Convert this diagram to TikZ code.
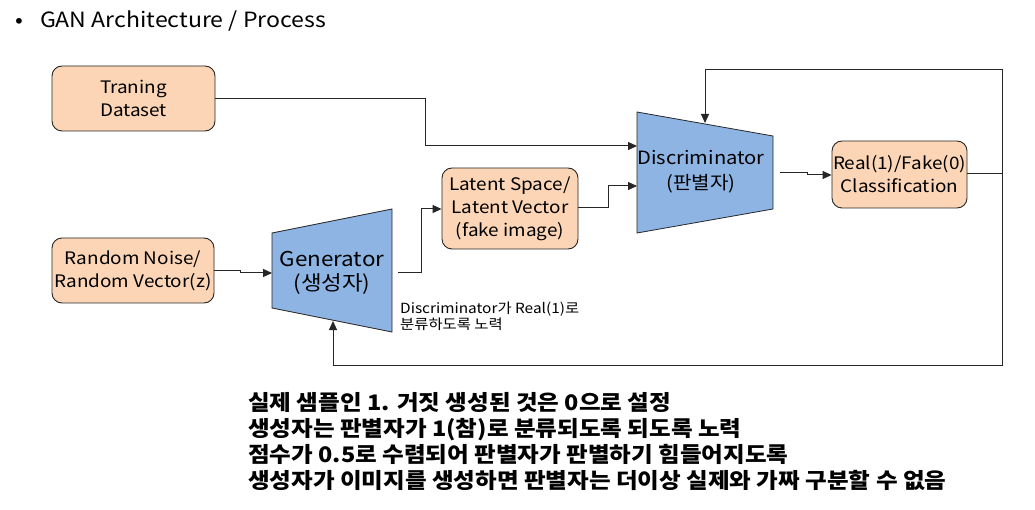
\documentclass[tikz,border=0pt]{standalone}
\usepackage{fontspec}
\setmainfont{Noto Sans CJK KR}[FakeStretch=1.1]
\usetikzlibrary{arrows.meta}
\definecolor{peach}{HTML}{FBD5B5}
\definecolor{nblue}{HTML}{8EB4E3}
\definecolor{lcol}{HTML}{262626}
\begin{document}
\begin{tikzpicture}[x=1pt,y=-1pt,
  box/.style={draw=lcol,fill=peach,rounded corners=10pt,line width=0.9pt,align=center,inner sep=0pt},
  boxtext/.style={font=\fontsize{17.2}{23}\selectfont},
  net/.style={fill=nblue,draw=lcol,line width=0.8pt},
  conn/.style={draw=lcol,line width=1pt,-{Triangle[length=9pt,width=8pt]}},
  plain/.style={draw=lcol,line width=1pt}]
\useasboundingbox (0,0) rectangle (1035,510);
\fill[white] (0,0) rectangle (1035,510);

% title
\node[anchor=west,font=\fontsize{21}{24}\selectfont,inner sep=0pt] (title) at (15,21) {\textbullet\hspace{17pt}GAN Architecture / Process};

% boxes
\node[box,minimum width=163pt,minimum height=65pt,boxtext] (train) at (133.5,98.5) {Traning\\Dataset};
\node[box,minimum width=162pt,minimum height=65pt,boxtext] (noise) at (133,270.5) {Random Noise/\\Random Vector(z)};
\node[box,minimum width=136pt,minimum height=81pt,boxtext] (latent) at (510,208.5) {Latent Space/\\Latent Vector\\(fake image)};
\node[box,minimum width=135pt,minimum height=67pt,boxtext] (real) at (899.5,174.5) {Real(1)/Fake(0)\\Classification};

% generator
\coordinate (g1) at (272,233);
\coordinate (g2) at (392,209);
\coordinate (g3) at (392,332);
\coordinate (g4) at (272,308);
\path[net] (g1) -- (g2) -- (g3) -- (g4) -- cycle;
\node[align=center,font=\fontsize{20.4}{24}\selectfont,inner sep=0pt] (gen) at (332,273) {Generator\\(생성자)};

% discriminator
\coordinate (d1) at (637,112);
\coordinate (d2) at (773,136);
\coordinate (d3) at (773,209);
\coordinate (d4) at (637,233);
\path[net] (d1) -- (d2) -- (d3) -- (d4) -- cycle;
\node[align=center,font=\fontsize{18.3}{25}\selectfont,inner sep=0pt] (disc) at (701,172) {Discriminator\\(판별자)};

% connector anchor coordinates
\coordinate (dinA) at (637,146);
\coordinate (dinB) at (637,186);
\coordinate (gin) at (272,273);
\coordinate (gout) at (398,273);
\coordinate (dout) at (780,173);
\coordinate (dtop) at (705,123);
\coordinate (gbot) at (333,321);
\coordinate (rj) at (1002,174);

% connectors
\draw[conn] (train.east |- 0,99) -- (425,99) -- (425,146) -- (dinA);
\draw[conn] (noise.east |- 0,271) -- (240,271) -- (240,273) -- (gin);
\draw[conn] (gout) -- (421,273) -- (421,209) -- (latent.west |- 0,209);
\draw[conn] (latent.east |- 0,208) -- (608,208) -- (608,186) -- (dinB);
\draw[conn] (dout) -- (807,173) -- (807,175) -- (real.west |- 0,175);
\draw[plain] (real.east |- 0,174) -- (rj);
\draw[conn] (rj) -- (1002,70) -- (705,70) -- (dtop);
\draw[conn] (rj) -- (1002,365) -- (333,365) -- (gbot);

% small note
\node[anchor=north west,align=left,font=\fontsize{14}{16}\selectfont,inner sep=0pt] (note) at (400,302) {Discriminator가 Real(1)로\\분류하도록 노력};

% bottom text
\node[anchor=north west,align=left,font=\bfseries\fontsize{21.4}{26}\selectfont,inner sep=0pt] (summary) at (248,392) {실제 샘플인 1. 거짓 생성된 것은 0으로 설정\\생성자는 판별자가 1(참)로 분류되도록 되도록 노력\\점수가 0.5로 수렴되어 판별자가 판별하기 힘들어지도록\\생성자가 이미지를 생성하면 판별자는 더이상 실제와 가짜 구분할 수 없음};
\end{tikzpicture}
\end{document}
